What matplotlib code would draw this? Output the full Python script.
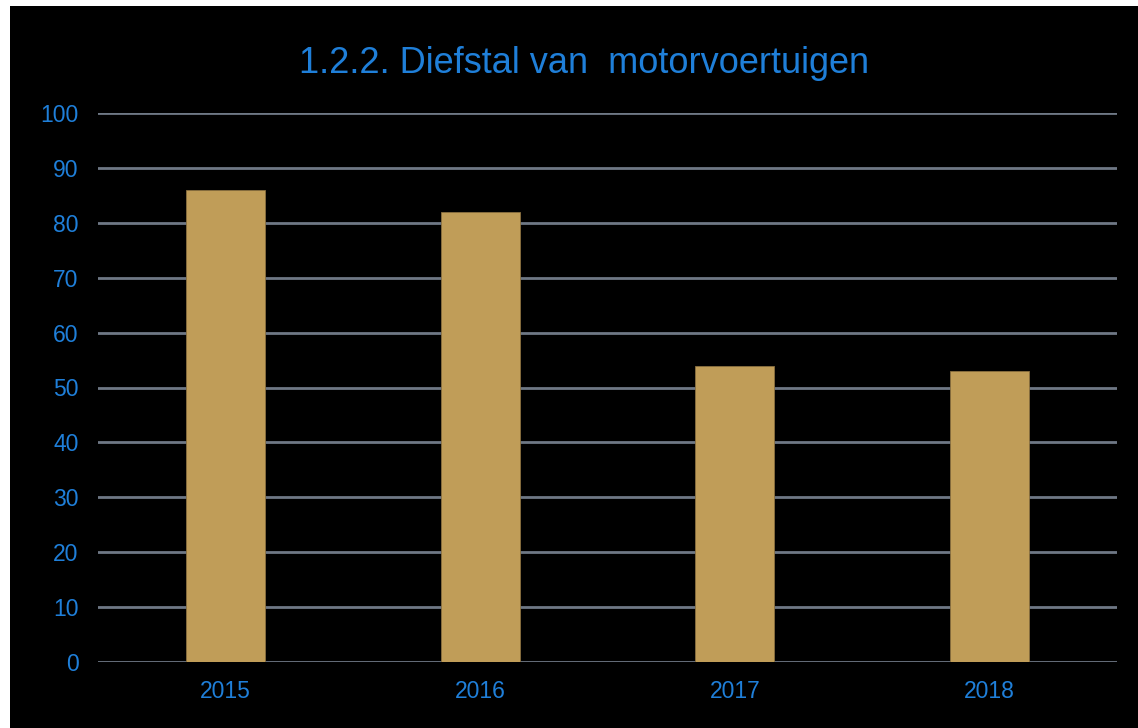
import matplotlib.pyplot as plt
from matplotlib.patches import Rectangle

# Data
years = ['2015', '2016', '2017', '2018']
thefts = [86, 82, 54, 53]
y_ticks = list(range(0, 101, 10))

BAR_COLOR = '#C09D58'
BLUE = '#1F7FD9'
GRID = '#6E7885'

plt.rcParams['font.family'] = ['Liberation Sans', 'DejaVu Sans']

W, H = 1138, 728
fig = plt.figure(figsize=(W / 100, H / 100), dpi=100, facecolor='white')

# black slide area (thin white margin top and left)
fig.patches.append(Rectangle((10 / W, 0), 1 - 10 / W, (H - 6) / H,
                             transform=fig.transFigure, facecolor='black',
                             edgecolor='none', zorder=-5))

# axes placement in pixels: x 98..1117, y 113 (100) .. 662 (0)
ax = fig.add_axes([98 / W, (H - 662) / H, (1117 - 98) / W, (662 - 113) / H])
ax.set_facecolor('none')
ax.set_zorder(2)

x = range(len(years))
ax.bar(x, thefts, width=0.31, color=BAR_COLOR, edgecolor='#8a7040',
       linewidth=0.6, zorder=3)

ax.set_xlim(-0.5, len(years) - 0.5)
ax.set_ylim(0, 100)
ax.set_yticks(y_ticks)
ax.set_xticks(list(x))
ax.set_xticklabels(years)

ax.grid(axis='y', color=GRID, linewidth=2, zorder=1)
ax.set_axisbelow(True)
for s in ax.spines.values():
    s.set_visible(False)

ax.tick_params(axis='both', length=0, labelsize=16.5, labelcolor=BLUE)
ax.tick_params(axis='y', pad=14)
ax.tick_params(axis='x', pad=13)
for lbl in ax.get_yticklabels():
    lbl.set_horizontalalignment('right')

fig.text(584 / W, 1 - 73 / H, '1.2.2. Diefstal van  motorvoertuigen',
         color=BLUE, fontsize=26, ha='center', va='baseline')

fig.savefig('out.png', dpi=100, facecolor=fig.get_facecolor())
